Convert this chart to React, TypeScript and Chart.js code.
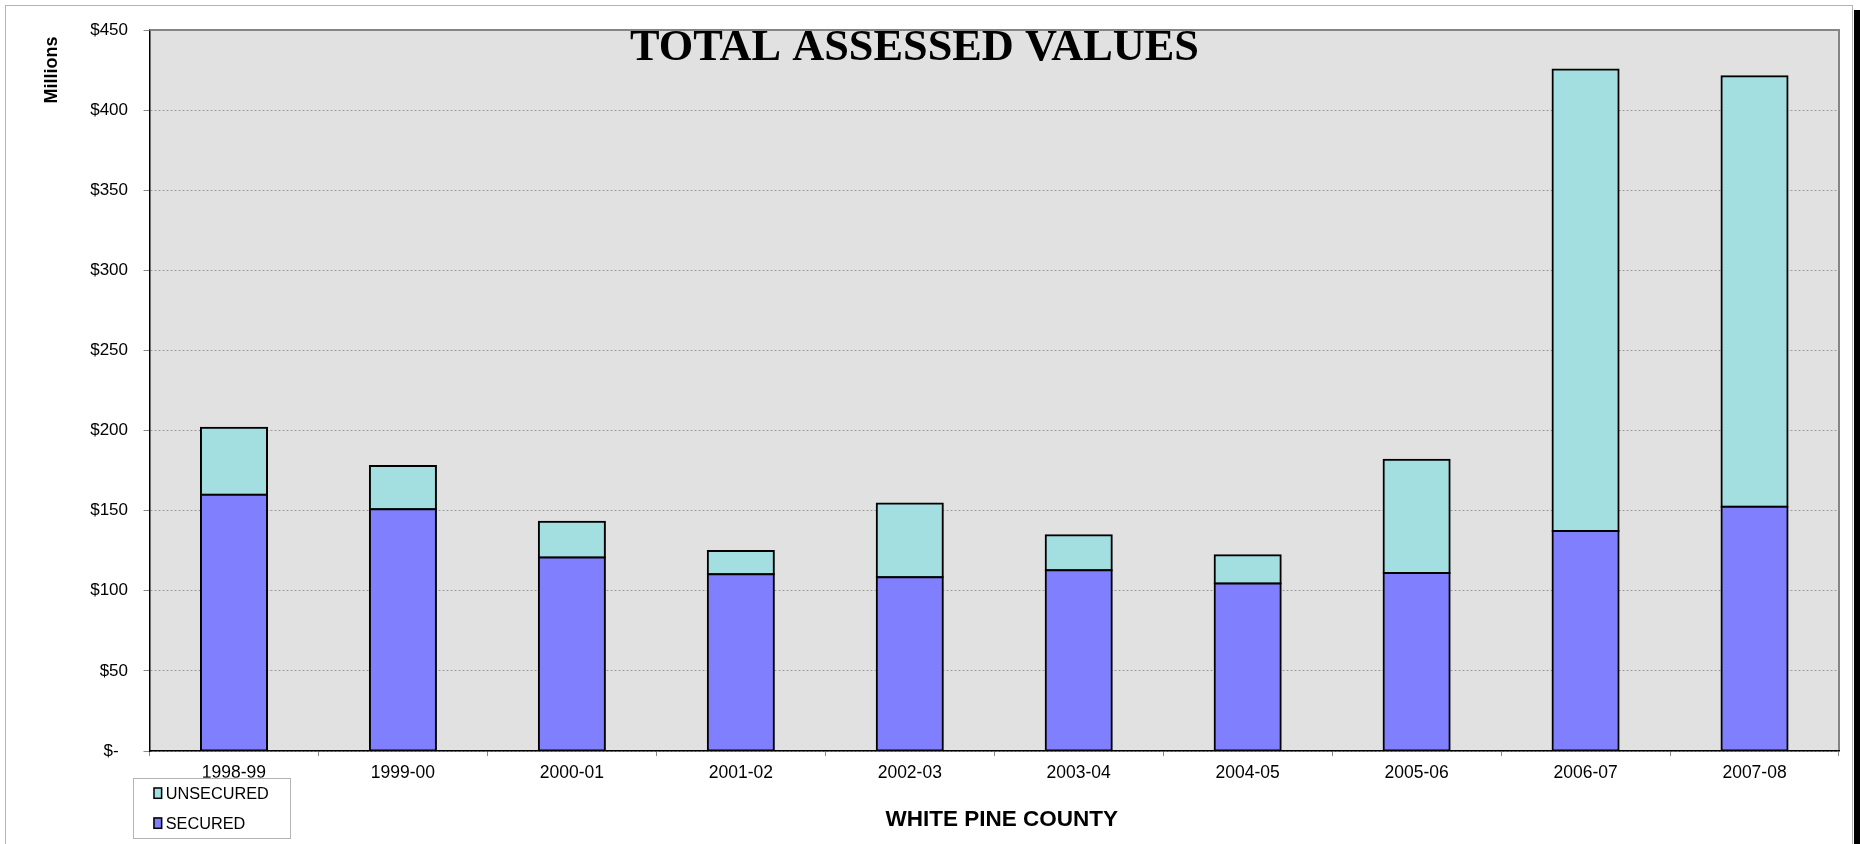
import React, { useEffect, useRef } from 'react';
import { Chart, registerables } from 'chart.js';

Chart.register(...registerables);

const categories = ['1998-99', '1999-00', '2000-01', '2001-02', '2002-03', '2003-04', '2004-05', '2005-06', '2006-07', '2007-08'];
const securedValues = [160.0, 150.9, 120.7, 110.3, 108.4, 112.8, 104.5, 111.1, 137.3, 152.5];
const unsecuredValues = [41.8, 27.0, 22.4, 14.5, 46.0, 21.8, 17.7, 70.7, 288.0, 268.6];
const yTickValues = [0, 50, 100, 150, 200, 250, 300, 350, 400, 450];
const seriesNames = ['SECURED', 'UNSECURED'];
const chartTitle = 'TOTAL ASSESSED VALUES';
const xAxisTitle = 'WHITE PINE COUNTY';
const yAxisTitle = 'Millions';

const SANS = 'Arial, "Liberation Sans", sans-serif';
const SERIF = '"Times New Roman", "Liberation Serif", serif';
const SECURED_COLOR = '#8080ff';
const UNSECURED_COLOR = '#a3dfe0';

const decorPlugin = {
  id: 'decor',
  beforeDraw(chart: any) {
    const { ctx, chartArea: a } = chart;
    ctx.save();
    ctx.fillStyle = '#ffffff';
    ctx.fillRect(0, 0, chart.width, chart.height);
    ctx.strokeStyle = '#b4b4b4';
    ctx.lineWidth = 1;
    ctx.strokeRect(5.5, 5.5, 1847, 900);
    ctx.fillStyle = '#e1e1e1';
    ctx.fillRect(a.left, a.top, a.right - a.left, a.bottom - a.top);
    ctx.restore();
  },
  beforeDatasetsDraw(chart: any) {
    const { ctx, chartArea: a } = chart;
    ctx.save();
    ctx.strokeStyle = '#858585';
    ctx.lineWidth = 2;
    ctx.beginPath();
    ctx.moveTo(a.left, a.top);
    ctx.lineTo(a.right, a.top);
    ctx.lineTo(a.right, a.bottom);
    ctx.stroke();
    ctx.restore();
  },
  afterDraw(chart: any) {
    const { ctx } = chart;
    ctx.save();
    // main title
    ctx.fillStyle = '#000';
    ctx.font = `bold 44px ${SERIF}`;
    const w = ctx.measureText(chartTitle).width;
    ctx.translate(914.5, 60);
    ctx.scale(569 / w, 1);
    ctx.textAlign = 'center';
    ctx.textBaseline = 'alphabetic';
    ctx.fillText(chartTitle, 0, 0);
    ctx.restore();

    // y-axis title
    ctx.save();
    ctx.fillStyle = '#000';
    ctx.font = `bold 18px ${SANS}`;
    ctx.translate(57, 70);
    ctx.rotate(-Math.PI / 2);
    ctx.textAlign = 'center';
    ctx.textBaseline = 'alphabetic';
    ctx.fillText(yAxisTitle, 0, 0);
    ctx.restore();

    // x-axis title
    ctx.save();
    ctx.fillStyle = '#000';
    ctx.font = `bold 22.5px ${SANS}`;
    ctx.textAlign = 'center';
    ctx.textBaseline = 'alphabetic';
    ctx.fillText(xAxisTitle, 1001.7, 825.7);
    ctx.restore();

    // legend
    ctx.save();
    ctx.fillStyle = '#ffffff';
    ctx.fillRect(133, 777.7, 157, 60.6);
    ctx.strokeStyle = '#b4b4b4';
    ctx.lineWidth = 1;
    ctx.strokeRect(133.5, 778.5, 157, 60);
    const ds = chart.data.datasets;
    const order = [1, 0];
    order.forEach((di, row) => {
      const d = ds[di];
      const base = 799 + row * 30;
      ctx.fillStyle = d.backgroundColor;
      ctx.fillRect(153.3, base - 11.7, 9, 11.7);
      ctx.strokeStyle = '#000';
      ctx.lineWidth = 1.5;
      ctx.strokeRect(154, base - 11, 7.6, 10.3);
      ctx.fillStyle = '#000';
      ctx.font = `16.3px ${SANS}`;
      ctx.textAlign = 'left';
      ctx.textBaseline = 'alphabetic';
      ctx.fillText(d.label, 165.7, base);
    });
    ctx.restore();

    // right black edge
    ctx.save();
    ctx.fillStyle = '#000';
    ctx.fillRect(1854, 10, 6, chart.height - 10);
    ctx.restore();
  },
};

export default function App() {
  const ref = useRef<HTMLCanvasElement | null>(null);
  useEffect(() => {
    if (!ref.current) return;
    const barStyle = {
      borderColor: '#000',
      borderWidth: 2,
      borderSkipped: false,
      inflateAmount: 1,
      barPercentage: 1,
      categoryPercentage: 0.391,
    };
    const chart = new Chart(ref.current, {
      type: 'bar',
      data: {
        labels: categories,
        datasets: [
          { label: seriesNames[0], data: securedValues, backgroundColor: SECURED_COLOR, ...barStyle },
          { label: seriesNames[1], data: unsecuredValues, backgroundColor: UNSECURED_COLOR, ...barStyle },
        ],
      },
      options: {
        responsive: false,
        maintainAspectRatio: false,
        animation: false,
        layout: { padding: { top: 30, right: 21, left: 0, bottom: 0 } },
        plugins: {
          legend: { display: false },
          title: { display: false },
          tooltip: { enabled: false },
        },
        scales: {
          x: {
            stacked: true,
            afterFit: (s: any) => {
              s.height = 93;
            },
            grid: {
              offset: true,
              drawOnChartArea: false,
              tickLength: 5,
              tickColor: '#888',
              lineWidth: 1,
            },
            border: { color: '#000', width: 1.5, z: 1 },
            ticks: {
              padding: 7,
              color: '#000',
              maxRotation: 0,
              autoSkip: false,
              font: { family: SANS, size: 17.5 },
            },
          },
          y: {
            stacked: true,
            min: 0,
            max: 450,
            afterBuildTicks: (s: any) => {
              s.ticks = yTickValues.map((v) => ({ value: v }));
            },
            afterFit: (s: any) => {
              s.width = 149.5;
            },
            grid: {
              color: '#9a9a9a',
              lineWidth: 1,
              tickLength: 6,
              tickColor: '#888',
            },
            border: { color: '#000', width: 1.5, dash: [2, 2] },
            ticks: {
              padding: 15.5,
              color: '#000',
              font: { family: SANS, size: 17 },
              callback: (v: any) => (Number(v) === 0 ? '$-  ' : '$' + v),
            },
          },
        },
      },
      plugins: [decorPlugin],
    });
    return () => chart.destroy();
  }, []);
  return (
    <div style={{ position: 'fixed', left: 0, top: 0, width: 1860, height: 844, background: '#fff' }}>
      <canvas ref={ref} width={1860} height={844} style={{ display: 'block', width: 1860, height: 844 }} />
    </div>
  );
}
